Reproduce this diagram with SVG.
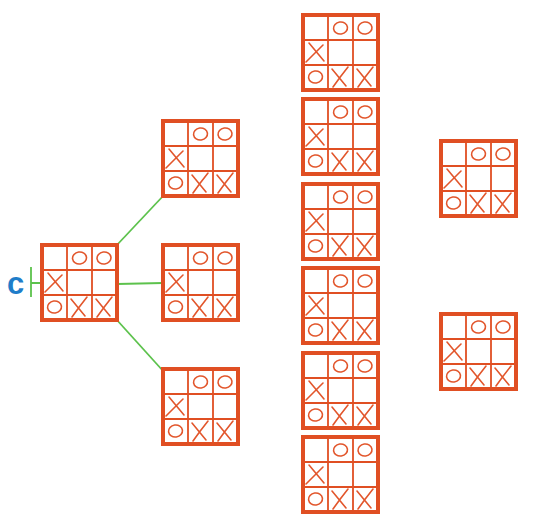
<svg xmlns="http://www.w3.org/2000/svg" xmlns:xlink="http://www.w3.org/1999/xlink" width="552" height="527" viewBox="0 0 552 527">
<style>
.frame{fill:#fff;stroke:#E04F23;stroke-width:4}
.grid{stroke:#E04F23;stroke-width:1.8;fill:none}
.mark{stroke:#E2562C;stroke-width:1.6;fill:none;stroke-linecap:round}
.edge{stroke:#5CC24C;stroke-width:1.8;fill:none}
.lbl{font-family:"Liberation Sans",Arial,sans-serif;font-weight:bold;font-size:31px;fill:#1F7DC9}
</style>
<defs>
<g id="board">
<rect class="frame" x="0" y="0" width="75" height="75"/>
<path class="grid" d="M25,0V75M50,0V75M0,25H75M0,50H75"/>
<ellipse class="mark" cx="37.5" cy="13" rx="7" ry="6" transform="rotate(-8 37.5 13)"/>
<ellipse class="mark" cx="62" cy="13" rx="7" ry="6" transform="rotate(-8 62 13)"/>
<path class="mark" d="M6,28 L21,46 M20,30 Q12,38 3,47"/>
<ellipse class="mark" cx="12.5" cy="62" rx="7" ry="6" transform="rotate(-8 12.5 62)"/>
<path class="mark" d="M29,54 L43,71 M45,52 Q37,62 30,72"/>
<path class="mark" d="M54,54 L68,71 M70,52 Q62,62 55,72"/>
</g>
</defs>
<g id="connectors">
<line class="edge" x1="116" y1="246" x2="164" y2="195"/>
<line class="edge" x1="117" y1="284" x2="163" y2="283"/>
<line class="edge" x1="116" y1="319" x2="164" y2="372"/>
<path class="edge" d="M31,267V297M31,283H42"/>
</g>
<g id="label-c"><text class="lbl" x="7" y="294">c</text></g>
<g id="root" transform="translate(42,245)"><use xlink:href="#board"/></g>
<g id="child1" transform="translate(163,121)"><use xlink:href="#board"/></g>
<g id="child2" transform="translate(163,245)"><use xlink:href="#board"/></g>
<g id="child3" transform="translate(163,369)"><use xlink:href="#board"/></g>
<g id="col3-1" transform="translate(303,15)"><use xlink:href="#board"/></g>
<g id="col3-2" transform="translate(303,99)"><use xlink:href="#board"/></g>
<g id="col3-3" transform="translate(303,184)"><use xlink:href="#board"/></g>
<g id="col3-4" transform="translate(303,268)"><use xlink:href="#board"/></g>
<g id="col3-5" transform="translate(303,353)"><use xlink:href="#board"/></g>
<g id="col3-6" transform="translate(303,437)"><use xlink:href="#board"/></g>
<g id="col4-1" transform="translate(441,141)"><use xlink:href="#board"/></g>
<g id="col4-2" transform="translate(441,314)"><use xlink:href="#board"/></g>
</svg>
